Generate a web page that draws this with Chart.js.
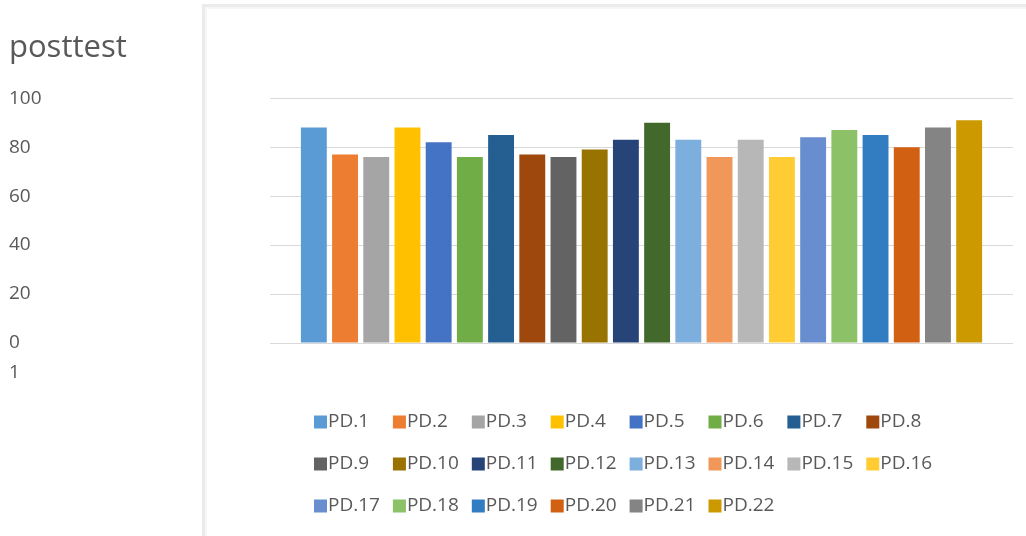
<!DOCTYPE html>
<html>
<head>
<meta charset="utf-8">
<script src="https://cdn.jsdelivr.net/npm/chart.js@4.4.1/dist/chart.umd.min.js"></script>
<style>
  html, body { margin: 0; padding: 0; background: #ffffff; }
  #wrap { position: relative; width: 1026px; height: 536px; }
  canvas { display: block; }
</style>
</head>
<body>
<div id="wrap"><canvas id="chart" width="1026" height="536"></canvas></div>
<script>
// Single category, one series per student (PD.1 … PD.22)
const categories = ['1'];
const seriesNames = ['PD.1','PD.2','PD.3','PD.4','PD.5','PD.6','PD.7','PD.8','PD.9','PD.10','PD.11',
                     'PD.12','PD.13','PD.14','PD.15','PD.16','PD.17','PD.18','PD.19','PD.20','PD.21','PD.22'];
const postScores = [88, 77, 76, 88, 82, 76, 85, 77, 76, 79, 83, 90, 83, 76, 83, 76, 84, 87, 85, 80, 88, 91];
const seriesColors = ['#5B9BD5','#ED7D31','#A5A5A5','#FFC000','#4472C4','#70AD47','#255E91','#9E480E',
                      '#636363','#997300','#264478','#43682B','#7CAFDD','#F1975A','#B7B7B7','#FFCD33',
                      '#698ED0','#8CC168','#327DC2','#D26012','#848484','#CC9A00'];
const yTicks = [0, 20, 40, 60, 80, 100];
const titleText = 'posttest';

const TEXT = '#595959';
const FONT = '"Open Sans", "Noto Sans", sans-serif';

const datasets = seriesNames.map((name, i) => ({
  label: name,
  data: [postScores[i]],
  backgroundColor: seriesColors[i],
  borderWidth: 0,
  categoryPercentage: 0.924,
  barPercentage: 0.83
}));

// Light frame along the left and top edges of the chart panel
const framePlugin = {
  id: 'panelFrame',
  beforeDraw(chart) {
    const { ctx, width, height } = chart;
    ctx.save();
    ctx.fillStyle = '#ebebeb';
    ctx.fillRect(202, 4, 3, height - 4);
    ctx.fillRect(202, 4, width - 202, 3);
    ctx.fillStyle = '#f6f6f6';
    ctx.fillRect(205, 7, 2, height - 7);
    ctx.fillRect(205, 7, width - 205, 2);
    ctx.restore();
  }
};

// Category label written under the value labels on the left
const categoryLabelPlugin = {
  id: 'categoryLabel',
  afterDraw(chart) {
    const { ctx, chartArea } = chart;
    const y = chart.scales.y;
    ctx.save();
    ctx.font = '19px ' + FONT;
    ctx.fillStyle = TEXT;
    ctx.textAlign = 'left';
    ctx.textBaseline = 'middle';
    chart.data.labels.forEach((lab, i) => {
      ctx.fillText(lab, y.left, chartArea.bottom + 30 + i * 24);
    });
    ctx.restore();
  }
};

// Legend laid out in fixed columns, eight entries per row
const gridLegendPlugin = {
  id: 'gridLegend',
  afterDraw(chart, args, opts) {
    const { ctx } = chart;
    ctx.save();
    ctx.font = opts.fontSize + 'px ' + FONT;
    ctx.textAlign = 'left';
    ctx.textBaseline = 'middle';
    chart.data.datasets.forEach((ds, i) => {
      const col = i % opts.perRow;
      const row = Math.floor(i / opts.perRow);
      const x = opts.left + col * opts.colWidth;
      const cy = opts.top + row * opts.rowHeight;
      ctx.fillStyle = ds.backgroundColor;
      ctx.fillRect(x, cy - opts.box / 2, opts.box, opts.box);
      ctx.fillStyle = TEXT;
      ctx.fillText(ds.label, x + opts.box + 1, cy);
    });
    ctx.restore();
  }
};

new Chart(document.getElementById('chart'), {
  type: 'bar',
  data: { labels: categories, datasets },
  plugins: [framePlugin, categoryLabelPlugin, gridLegendPlugin],
  options: {
    responsive: false,
    animation: false,
    layout: { padding: { left: 9, right: 13, top: 0, bottom: 193 } },
    plugins: {
      legend: { display: false },
      tooltip: { enabled: false },
      title: {
        display: true,
        text: titleText,
        align: 'start',
        color: TEXT,
        font: { family: FONT, size: 31, weight: 'normal', lineHeight: 1.2 },
        padding: { top: 30, bottom: 31 }
      },
      gridLegend: { left: 314, top: 422, colWidth: 78.9, rowHeight: 42, perRow: 8, box: 13, fontSize: 19 }
    },
    scales: {
      x: {
        display: false,
        grid: { display: false }
      },
      y: {
        min: 0,
        max: 100,
        afterFit(scale) { scale.width = 261; },
        afterBuildTicks(scale) { scale.ticks = yTicks.map(v => ({ value: v })); },
        border: { display: false },
        grid: { color: '#d9d9d9', lineWidth: 1, drawTicks: false },
        ticks: {
          crossAlign: 'far',
          padding: 0,
          color: TEXT,
          font: { family: FONT, size: 19 }
        }
      }
    }
  }
});
</script>
</body>
</html>
